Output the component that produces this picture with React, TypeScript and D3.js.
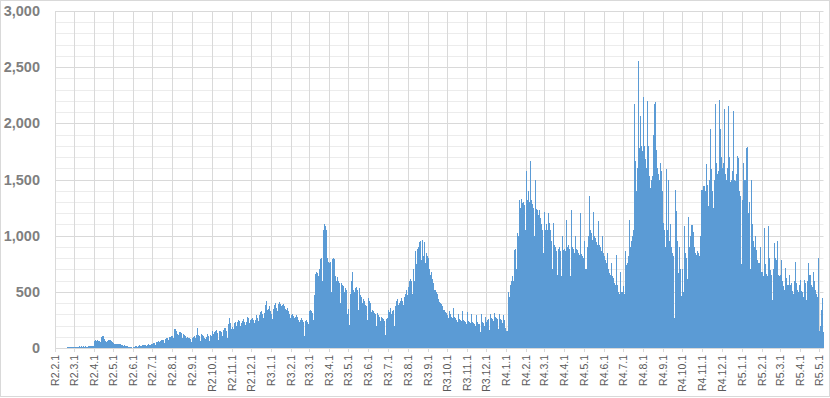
import React from "react";
import * as d3 from "d3";

// ---- daily values (one array per month) ----
const feb2020 = [0,0,1,0,0,1,0, 0,0,1,0,2,1,3, 2,1,4,3,5,4,6, 5,3,7,6,8,7,9, 6];
const mar2020 = [4,10,8,9,11,12,10, 6,14,12,13,15,11,9, 7,16,13,12,14,10,8, 6,15,14,17,19,18,16, 9,22,20];
const apr2020 = [55,65,70,60,40,72,65, 60,62,58,55,45,95,110, 105,92,80,60,45,55,62, 65,70,68,58,40,70,65, 50,45];
const may2020 = [42,38,28,35,30,32,40, 36,33,25,38,34,30,28, 26,22,15,24,20,18,16, 14,12,6,10,8,7,5, 6,4,3];
const jun2020 = [8,10,12,14,16,13,9, 18,20,22,25,20,18,12, 24,26,28,30,25,22,15, 30,28,32,35,30,28,20, 36,34];
const jul2020 = [38,42,45,40,30,50,48, 52,58,55,50,38,60,62, 68,72,70,62,48,80,78, 85,88,82,75,58,95,90, 100,105,98];
const aug2020 = [110,85,150,165,170,155,140, 125,90,120,135,145,140,130, 115,85,120,125,115,110,100, 90,65,95,90,88,85,80, 72,55,85];
const sep2020 = [90,95,100,105,90,65,120, 178,130,115,105,95,62,110, 125,118,110,100,88,60,80, 95,125,120,110,95,65,115, 120,110];
const oct2020 = [130,150,125,75,140,150,160, 145,130,110,70,130,150,155, 140,130,110,75,160,175,180, 165,150,130,90,180,210,265, 220,200,170];
const nov2020 = [110,190,170,200,225,235,200, 120,210,230,245,240,225,200, 125,220,240,260,250,235,205, 130,160,230,275,270,255,225, 140,250];
const dec2020 = [260,270,200,250,225,150,250, 280,290,220,270,240,165,290, 320,330,260,300,270,180,310, 350,380,415,300,340,220,350, 370,290,330];
const jan2021 = [300,260,200,350,380,300,400, 395,360,260,330,390,320,410, 395,370,250,380,395,300,370, 350,310,200,340,360,280,330, 300,270,190];
const feb2021 = [290,300,295,285,270,240,130, 280,290,275,260,250,230,120, 250,265,255,245,235,210,110, 220,240,250,245,235,215,100];
const mar2021 = [330,320,340,330,310,300,250, 460,470,450,660,680,670,520, 640,600,700,790,800,780,600, 760,1050,1100,1105,1090,1050,720, 800,770,760];
const apr2021 = [760,770,740,500,760,790,800, 795,760,640,520,600,630,620, 600,580,550,400,570,580,560, 550,540,500,380,530,520,480, 300,250];
const may2021 = [350,205,420,480,600,680,560, 520,340,500,510,530,540,520, 500,340,530,500,470,450,430, 400,300,440,420,400,380,370, 350,250,445];
const jun2021 = [430,420,400,350,320,250,340, 330,320,310,300,280,200,310, 300,290,280,260,240,180,280, 270,260,250,240,220,115,240, 260,270];
const jul2021 = [300,340,320,220,360,300,290, 330,340,320,200,360,370,420, 440,420,380,230,400,420,440, 445,420,380,280,400,450,480, 500,520,470];
const aug2021 = [380,540,595,520,610,600,480, 420,640,700,600,820,860,750, 700,880,900,800,940,950,780, 720,930,960,820,940,900,760, 700,850,820];
const sep2021 = [800,760,700,650,500,680,610, 600,580,550,520,380,520,500, 480,460,440,410,300,400,390, 380,370,360,340,230,340,320, 310,300];
const oct2021 = [290,270,190,330,300,290,280, 270,250,180,360,280,270,260, 250,230,170,300,260,250,245, 240,220,160,330,250,240,235, 230,210,150];
const nov2021 = [320,240,200,230,225,210,150, 300,230,225,220,215,200,140, 290,230,220,215,210,195,140, 300,180,230,225,220,200,140, 280,230];
const dec2021 = [60,250,260,240,160,300,270, 260,270,260,240,170,310,280, 270,265,255,240,170,300,270, 260,250,240,220,160,290,250, 220,180,150];
const jan2022 = [80,150,480,500,450,520,560, 600,420,640,580,600,870,880, 860,700,1020,880,1000,1320,1300, 1250,1000,1330,1280,1290,1300,1270, 1250,1050,1575];
const feb2022 = [1350,1320,1335,1400,1300,1100,1665, 1320,1300,1280,1250,1200,1000,1500, 1220,1240,1230,1230,1180,950,1230, 1160,1150,1100,1050,1000,850,1215];
const mar2022 = [1000,1050,1100,1100,1050,800,1200, 1110,1050,1000,950,900,700,1115, 950,920,900,880,860,650,540, 880,900,880,860,850,640,1000, 880,870,860];
const apr2022 = [880,860,650,1140,900,920,900, 880,860,640,1230,920,900,880, 870,850,620,1000,880,870,860, 850,830,600,1200,860,840,820, 520,800];
const may2022 = [600,950,700,360,700,900,1000, 800,1350,1000,1050,1020,980,960, 715,1210,1000,980,960,940,920, 700,1130,950,920,900,880,860, 535,1000,850];
const jun2022 = [820,800,780,760,560,845,700, 680,670,660,650,480,760,640, 620,600,580,560,325,830,560, 520,500,490,480,350,680,500, 490,500];
const jul2022 = [550,480,325,860,720,740,760, 800,820,640,1140,900,950,870, 1000,1050,900,2170,1500,1665,1400, 1085,1600,1700,2556,1780,2065,1700, 1800,1750,1600];
const aug2022 = [2230,1800,1750,1680,1600,1500,1010, 2200,1800,1530,1430,1428,1500,1300, 1530,1790,1900,2170,2190,2180,1760, 1385,1600,1550,1470,1500,1650,1040, 1580,1400,1110];
const sep2022 = [1110,1000,1050,900,1590,935,1000, 1050,1500,950,900,1100,726,900, 850,820,780,265,600,1410,1220, 950,800,670,500,900,610,700, 460,650];
const oct2022 = [700,500,1085,400,848,610,800, 610,430,1170,770,900,1000,1050, 1095,1095,700,1030,900,850,848, 830,600,860,850,840,815,820, 1000,1410,1300];
const nov2022 = [1410,1440,1300,1440,1400,1635,1335, 1200,1450,1260,1400,1500,1950,1590, 1450,1400,1250,935,1500,2175,1700, 1600,1650,1550,1500,1580,2205,1650, 1950,1700];
const dec2022 = [1485,1600,1650,2125,1800,1550,1054, 1500,1550,1600,2155,1700,1500,1480, 1460,1500,1580,2110,1650,1500,964, 1490,1550,1450,1710,1695,1490,1400, 1350,1300,750];
const jan2023 = [1320,1000,1650,1500,1450,1500,1400, 1780,1790,1260,1200,1020,1300,700, 1320,1494,1100,875,950,900,815, 1000,875,800,780,490,760,755, 900,700,680];
const feb2023 = [680,652,640,620,1070,750,697, 660,637,620,1085,800,720,697, 650,600,428,600,700,935,800, 650,785,700,950,600,650,637];
const mar2023 = [600,650,785,600,577,550,520, 503,550,711,620,560,474,560, 652,600,560,577,540,503,480, 450,295,600,770,580,540,518, 500,480,560];
const apr2023 = [606,560,503,480,500,458,520, 606,580,500,428,460,600,755, 650,600,652,560,518,540,600, 681,600,550,518,480,414,450, 134,800];
const may2023 = [150,160,200,340,443,440,146];

const months = [
  feb2020, mar2020, apr2020, may2020, jun2020, jul2020, aug2020, sep2020, oct2020, nov2020, dec2020,
  jan2021, feb2021, mar2021, apr2021, may2021, jun2021, jul2021, aug2021, sep2021, oct2021, nov2021, dec2021,
  jan2022, feb2022, mar2022, apr2022, may2022, jun2022, jul2022, aug2022, sep2022, oct2022, nov2022, dec2022,
  jan2023, feb2023, mar2023, apr2023, may2023,
];

const xTickLabels = [
  "R2.2.1","R2.3.1","R2.4.1","R2.5.1","R2.6.1","R2.7.1","R2.8.1","R2.9.1","R2.10.1","R2.11.1","R2.12.1",
  "R3.1.1","R3.2.1","R3.3.1","R3.4.1","R3.5.1","R3.6.1","R3.7.1","R3.8.1","R3.9.1","R3.10.1","R3.11.1","R3.12.1",
  "R4.1.1","R4.2.1","R4.3.1","R4.4.1","R4.5.1","R4.6.1","R4.7.1","R4.8.1","R4.9.1","R4.10.1","R4.11.1","R4.12.1",
  "R5.1.1","R5.2.1","R5.3.1","R5.4.1","R5.5.1",
];

const yTickValues = [0, 500, 1000, 1500, 2000, 2500, 3000];
const yTickLabels = ["0", "500", "1,000", "1,500", "2,000", "2,500", "3,000"];
const yMinorStep = 100;

const W = 830;
const H = 398;
const PLOT_L = 55;
const PLOT_R = 823.5;
const PLOT_T = 11;
const PLOT_B = 348;

export default function App() {
  const values = months.flat();
  const start = new Date(Date.UTC(2020, 1, 1));
  const end = d3.utcDay.offset(start, values.length);
  const dates = values.map((_, i) => d3.utcDay.offset(start, i));

  const x = d3.scaleUtc().domain([start, end]).range([PLOT_L, PLOT_R]);
  const y = d3.scaleLinear().domain([0, 3000]).range([PLOT_B, PLOT_T]);

  const monthTicks = d3.utcMonth.range(start, end);
  const minorTicks = d3.range(yMinorStep, 3000, yMinorStep).filter((v) => v % 500 !== 0);

  const crisp = (v: number) => Math.round(v) + 0.5;

  return (
    <svg
      width={W}
      height={H}
      style={{ position: "absolute", left: 0, top: 0, background: "#fff" }}
      fontFamily="'Liberation Sans', Arial, sans-serif"
    >
      <rect x={0.5} y={0.5} width={W - 1} height={H - 2} fill="#fff" stroke="#d9d9d9" />
      {minorTicks.map((v) => (
        <line key={"mn" + v} x1={PLOT_L} x2={PLOT_R} y1={crisp(y(v))} y2={crisp(y(v))} stroke="#ececec" />
      ))}
      {yTickValues.map((v) => (
        <line key={"mj" + v} x1={PLOT_L} x2={PLOT_R} y1={crisp(y(v))} y2={crisp(y(v))} stroke="#d9d9d9" />
      ))}
      {monthTicks.map((d, i) => (
        <line key={"vg" + i} x1={crisp(x(d))} x2={crisp(x(d))} y1={PLOT_T} y2={PLOT_B + 4} stroke="#d9d9d9" />
      ))}
      <g fill="#5b9bd5" shapeRendering="crispEdges">
        {values.map((v, i) => {
          const x0 = x(dates[i]);
          const x1 = x(d3.utcDay.offset(dates[i], 1));
          return <rect key={i} x={x0} width={Math.max(1.005, x1 - x0)} y={y(v)} height={y(0) - y(v)} />;
        })}
      </g>
      <line x1={PLOT_L} x2={PLOT_R} y1={crisp(y(0))} y2={crisp(y(0))} stroke="#d9d9d9" />
      {yTickValues.map((v, i) => (
        <text
          key={"yl" + v}
          x={40}
          y={y(v)}
          dy="0.35em"
          textAnchor="end"
          fontSize={14.5}
          fontWeight="bold"
          fill="#7f7f7f"
        >
          {yTickLabels[i]}
        </text>
      ))}
      {monthTicks.map((d, i) => (
        <text
          key={"xl" + i}
          transform={`translate(${x(d) + 4},${PLOT_B + 7}) rotate(-90)`}
          textAnchor="end"
          fontSize={10.5}
          fill="#595959"
        >
          {xTickLabels[i]}
        </text>
      ))}
    </svg>
  );
}
